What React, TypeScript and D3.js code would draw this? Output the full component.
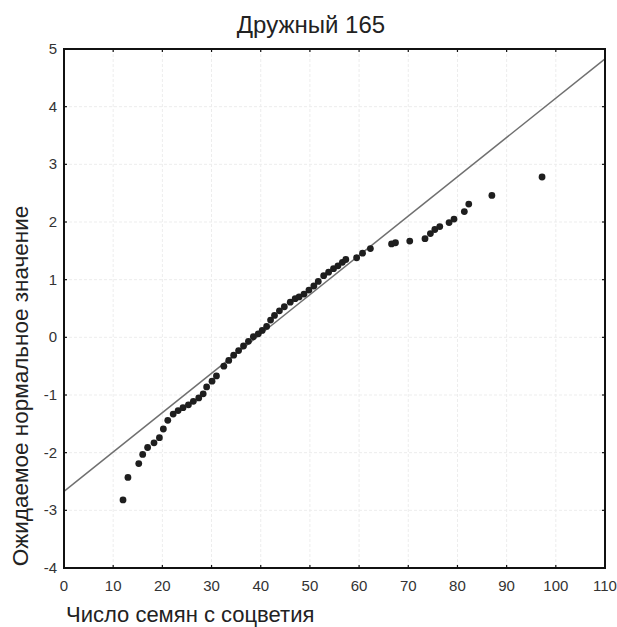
import React, { useEffect, useRef } from 'react';
import * as d3 from 'd3';

// Seed counts and expected normal values
const seedCounts = [
  12.0, 13.0, 15.2, 16.0, 17.0, 18.3, 19.4, 20.2, 21.1, 22.2, 23.2, 24.2, 25.3, 26.3, 27.4, 28.3,
  29.0, 30.1, 31.0, 32.5, 33.5, 34.5, 35.5, 36.5, 37.5, 38.5, 39.5, 40.3, 41.2, 42.0, 42.8, 43.8,
  44.8, 46.0, 47.0, 47.8, 48.8, 49.8, 50.8, 51.7, 52.8, 53.8, 54.8, 55.7, 56.6, 57.3, 59.5, 60.7,
  62.3, 66.6, 67.4, 70.3, 73.4, 74.5, 75.4, 76.4, 78.3, 79.3, 81.4, 82.3, 87.0, 97.2,
];
const expectedNormal = [
  -2.82, -2.43, -2.19, -2.03, -1.91, -1.83, -1.74, -1.59, -1.44, -1.33, -1.27, -1.22, -1.17, -1.11, -1.05, -0.98,
  -0.86, -0.76, -0.67, -0.5, -0.4, -0.31, -0.23, -0.15, -0.07, 0.01, 0.06, 0.12, 0.19, 0.3, 0.38, 0.46,
  0.53, 0.61, 0.67, 0.7, 0.75, 0.82, 0.89, 0.97, 1.07, 1.13, 1.19, 1.24, 1.3, 1.35, 1.38, 1.46,
  1.54, 1.62, 1.64, 1.67, 1.71, 1.8, 1.87, 1.92, 1.99, 2.05, 2.18, 2.31, 2.46, 2.78,
];
// Reference line endpoints (x, expected value)
const refLineX = [0, 110];
const refLineY = [-2.67, 4.83];

const xTicks = [0, 10, 20, 30, 40, 50, 60, 70, 80, 90, 100, 110];
const yTicks = [-4, -3, -2, -1, 0, 1, 2, 3, 4, 5];

const title = 'Дружный 165';
const xLabel = 'Число семян с соцветия';
const yLabel = 'Ожидаемое нормальное значение';

const width = 617;
const height = 627;
const margin = { top: 49, right: 12, bottom: 59, left: 64 };

const App: React.FC = () => {
  const svgRef = useRef<SVGSVGElement>(null);

  useEffect(() => {
    if (!svgRef.current) return;
    d3.select(svgRef.current).selectAll('*').remove();

    const svg = d3.select(svgRef.current)
      .attr('width', width)
      .attr('height', height);

    const font = 'Liberation Sans, Arial, sans-serif';
    const x = d3.scaleLinear().domain([0, 110]).range([margin.left, width - margin.right]);
    const y = d3.scaleLinear().domain([-4, 5]).range([height - margin.bottom, margin.top]);

    // Faint grid
    const grid = svg.append('g');
    grid.selectAll('line.gx')
      .data(xTicks.slice(1, -1))
      .enter().append('line')
      .attr('x1', d => x(d)).attr('x2', d => x(d))
      .attr('y1', y(5)).attr('y2', y(-4))
      .attr('stroke', '#ededed')
      .attr('stroke-width', 1)
      .attr('stroke-dasharray', '3,2');
    grid.selectAll('line.gy')
      .data(yTicks.slice(1, -1))
      .enter().append('line')
      .attr('x1', x(0)).attr('x2', x(110))
      .attr('y1', d => y(d)).attr('y2', d => y(d))
      .attr('stroke', '#ededed')
      .attr('stroke-width', 1)
      .attr('stroke-dasharray', '3,2');

    // Reference line
    svg.append('line')
      .attr('x1', x(refLineX[0])).attr('y1', y(refLineY[0]))
      .attr('x2', x(refLineX[1])).attr('y2', y(refLineY[1]))
      .attr('stroke', '#707070')
      .attr('stroke-width', 1.5);

    // Points
    svg.append('g')
      .selectAll('circle')
      .data(seedCounts.map((v, i) => [v, expectedNormal[i]]))
      .enter().append('circle')
      .attr('cx', d => x(d[0]))
      .attr('cy', d => y(d[1]))
      .attr('r', 3.4)
      .attr('fill', '#1e1e1e');

    // Frame
    svg.append('rect')
      .attr('x', x(0)).attr('y', y(5))
      .attr('width', x(110) - x(0))
      .attr('height', y(-4) - y(5))
      .attr('fill', 'none')
      .attr('stroke', '#111')
      .attr('stroke-width', 2);

    // Inside ticks
    const ticks = svg.append('g').attr('stroke', '#111').attr('stroke-width', 1.2);
    xTicks.slice(1, -1).forEach(t => {
      ticks.append('line').attr('x1', x(t)).attr('x2', x(t)).attr('y1', y(-4)).attr('y2', y(-4) - 3);
      ticks.append('line').attr('x1', x(t)).attr('x2', x(t)).attr('y1', y(5)).attr('y2', y(5) + 3);
    });
    yTicks.slice(1, -1).forEach(t => {
      ticks.append('line').attr('x1', x(0)).attr('x2', x(0) + 3).attr('y1', y(t)).attr('y2', y(t));
      ticks.append('line').attr('x1', x(110)).attr('x2', x(110) - 3).attr('y1', y(t)).attr('y2', y(t));
    });

    // Tick labels
    svg.append('g')
      .selectAll('text')
      .data(xTicks)
      .enter().append('text')
      .attr('x', d => x(d))
      .attr('y', y(-4) + 23)
      .attr('text-anchor', 'middle')
      .attr('font-family', font)
      .attr('font-size', 15)
      .attr('fill', '#333')
      .text(d => d);
    svg.append('g')
      .selectAll('text')
      .data(yTicks)
      .enter().append('text')
      .attr('x', x(0) - 7)
      .attr('y', d => y(d) + 5)
      .attr('text-anchor', 'end')
      .attr('font-family', font)
      .attr('font-size', 15)
      .attr('fill', '#333')
      .text(d => d);

    // Title and axis labels
    svg.append('text')
      .attr('x', 311)
      .attr('y', 33)
      .attr('text-anchor', 'middle')
      .attr('font-family', font)
      .attr('font-size', 24)
      .attr('fill', '#222')
      .text(title);
    svg.append('text')
      .attr('x', 66)
      .attr('y', 622)
      .attr('font-family', font)
      .attr('font-size', 22)
      .attr('fill', '#222')
      .text(xLabel);
    svg.append('text')
      .attr('transform', `translate(28, 386) rotate(-90)`)
      .attr('text-anchor', 'middle')
      .attr('font-family', font)
      .attr('font-size', 22.5)
      .attr('fill', '#222')
      .text(yLabel);
  }, []);

  return (
    <svg
      ref={svgRef}
      style={{ position: 'absolute', left: 0, top: 0, background: '#fff' }}
    />
  );
};

export default App;
